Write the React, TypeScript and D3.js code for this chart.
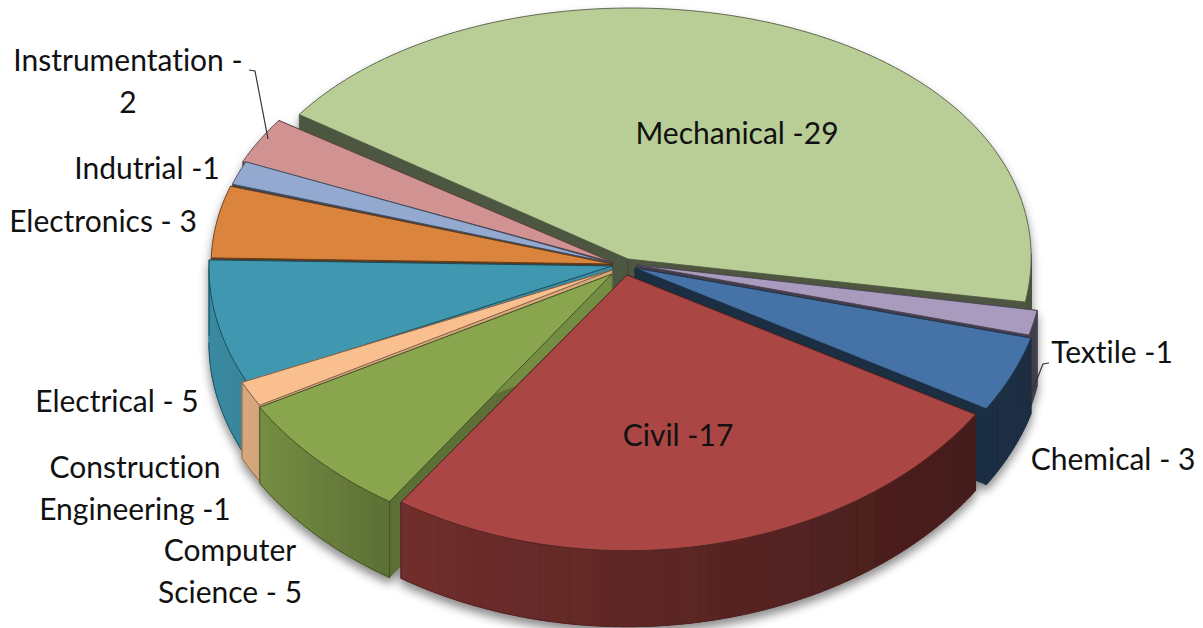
import React from 'react';
import * as d3 from 'd3';

// values, clockwise from the top-left edge of Mechanical
const categories = ['Mechanical', 'Textile', 'Chemical', 'Civil', 'Computer Science', 'Construction Engineering', 'Electrical', 'Electronics', 'Indutrial', 'Instrumentation'];
const values = [29, 1, 3, 17, 5, 1, 5, 3, 1, 2];
const colors = ['#b9cd96', '#a99bbd', '#4573a7', '#aa4644', '#89a54e', '#f9bf8e', '#3f97b0', '#db843d', '#93a9cf', '#d19392'];

// pull-out of each slice from the pie centre, px: the outer rim and the tip move a bit differently
const rimOffsets: [number, number][] = [[19, -7], [28, 1], [30, 4], [15, 4], [-5, 6], [-5, 4], [0, 4], [2, 2], [4, 0], [1, 0]];
const tipOffsets: [number, number][] = [[16, -5], [25, 1], [23, 4], [15, 11], [0, 10], [0, 6], [0, 2], [0, 0], [0, -1], [0, -2]];
const radiusFit = [0.993, 1, 1, 1.02, 1, 1, 1, 1, 1, 1];
const turnFit = [0, 0, 0, 0.7, 0, 0, 0, 0, 0, 0];

const labelLines = [
    { lines: ['Instrumentation -', '2'], x: 128, y: 71 },
    { lines: ['Indutrial -1'], x: 147, y: 179 },
    { lines: ['Electronics - 3'], x: 103, y: 232 },
    { lines: ['Electrical - 5'], x: 117, y: 412 },
    { lines: ['Construction', 'Engineering -1'], x: 135, y: 478 },
    { lines: ['Computer', 'Science - 5'], x: 230, y: 561 },
    { lines: ['Mechanical -29'], x: 737, y: 144 },
    { lines: ['Civil -17'], x: 678, y: 446 },
    { lines: ['Textile -1'], x: 1112, y: 363 },
    { lines: ['Chemical - 3'], x: 1113, y: 470 },
];
const leaders: [number, number][][] = [
    [[249, 70], [255, 71], [268, 139]],
    [[1049, 363], [1043, 364], [1029, 399]],
];

const width = 1203;
const height = 628;
const cx = 612;
const cy = 264;
const R = 403;
const depth = 76;
const tilt = 0.655;
const persp = 0.05;
const startDeg = -56;

const toRad = (d: number) => (d * Math.PI) / 180;

// fake perspective: the near half of the ellipse is a bit deeper than the far half
const rim = (a: number, r: number): [number, number] => {
    const v = -Math.cos(a);
    return [r * Math.sin(a), r * tilt * (v + persp * v * v)];
};

const wallShade = d3.scaleLinear().domain([210, 400, 640, 980]).range([0.92, 0.66, 0.56, 0.4]).clamp(true);
const scaleColor = (c: string, f: number) => {
    const rgb = d3.rgb(c);
    return d3.rgb(rgb.r * f, rgb.g * f, rgb.b * f).formatHex();
};
const line = d3.line();

const arcs = d3.pie<number>()
    .sort(null)
    .startAngle(toRad(startDeg))
    .endAngle(toRad(startDeg + 360))(values);

const slices = arcs
    .map((arc, i) => {
        const ax = cx + tipOffsets[i][0];
        const ay = cy + tipOffsets[i][1];
        const turn = toRad(turnFit[i]);
        const steps = Math.max(2, Math.ceil((arc.endAngle - arc.startAngle) / toRad(1.5)));
        const angles = d3.range(steps + 1).map(s => turn + arc.startAngle + ((arc.endAngle - arc.startAngle) * s) / steps);
        const pts = angles.map(a => {
            const [x, y] = rim(a, R * radiusFit[i]);
            return [cx + rimOffsets[i][0] + x, cy + rimOffsets[i][1] + y] as [number, number];
        });
        return { i, ax, ay, angles, pts, mid: -Math.cos((arc.startAngle + arc.endAngle) / 2) };
    })
    .sort((a, b) => a.mid - b.mid);

const Slice: React.FC<{ s: (typeof slices)[number] }> = ({ s }) => {
    const color = colors[s.i];
    const first = s.pts[0];
    const last = s.pts[s.pts.length - 1];
    const edge = scaleColor(color, 0.45);
    const radial = (p: [number, number]) => {
        const f = s.mid < 0 ? 0.42 : wallShade(p[0]);
        return (
            <path
                d={line([[s.ax, s.ay], p, [p[0], p[1] + depth], [s.ax, s.ay + depth]])! + 'Z'}
                fill={scaleColor(color, f)}
                stroke={scaleColor(color, f * 0.8)}
                strokeWidth={0.6}
            />
        );
    };
    // only the near half of the rim faces the viewer
    const front = s.pts.map((p, k) => ({ p, k })).filter(d => -Math.cos(s.angles[d.k]) > -0.02);
    return (
        <g>
            {radial(first)}
            {radial(last)}
            {front.slice(1).map(({ p, k }) => {
                const q = s.pts[k - 1];
                const fill = scaleColor(color, wallShade((p[0] + q[0]) / 2));
                return (
                    <path
                        key={k}
                        d={line([q, p, [p[0], p[1] + depth], [q[0], q[1] + depth]])! + 'Z'}
                        fill={fill}
                        stroke={fill}
                        strokeWidth={1}
                    />
                );
            })}
            {front.length > 1 && (
                <path d={line(front.map(d => [d.p[0], d.p[1] + depth]))!} fill="none" stroke={edge} strokeWidth={0.8} />
            )}
            <path d={line([first, [first[0], first[1] + depth]])!} fill="none" stroke={edge} strokeWidth={s.mid < 0 ? 0 : 0.8} />
            <path d={line([last, [last[0], last[1] + depth]])!} fill="none" stroke={edge} strokeWidth={0.8} />
            <path d={line([[s.ax, s.ay], ...s.pts])! + 'Z'} fill={color} stroke={edge} strokeWidth={0.9} strokeLinejoin="round" />
        </g>
    );
};

export default function App() {
    return (
        <svg width={width} height={height} style={{ position: 'absolute', left: 0, top: 0, display: 'block' }}>
            <title>{categories.join(', ')}</title>
            <defs>
                <filter id="pieShadow" x="-5%" y="-5%" width="110%" height="115%">
                    <feDropShadow dx={0} dy={6} stdDeviation={5} floodColor="#000" floodOpacity={0.45} />
                </filter>
            </defs>
            <g filter="url(#pieShadow)">
                {slices.map(s => <Slice key={s.i} s={s} />)}
            </g>
            {leaders.map((pts, i) => (
                <path key={i} d={line(pts)!} fill="none" stroke="#333" strokeWidth={1.2} />
            ))}
            <g fontFamily="Lato, 'Open Sans', sans-serif" fontSize={30} fill="#111" textAnchor="middle" style={{ fontVariantLigatures: 'none' }}>
                {labelLines.map(l =>
                    l.lines.map((t, k) => (
                        <text key={t} x={l.x} y={l.y + k * 41.5}>{t}</text>
                    ))
                )}
            </g>
        </svg>
    );
}
